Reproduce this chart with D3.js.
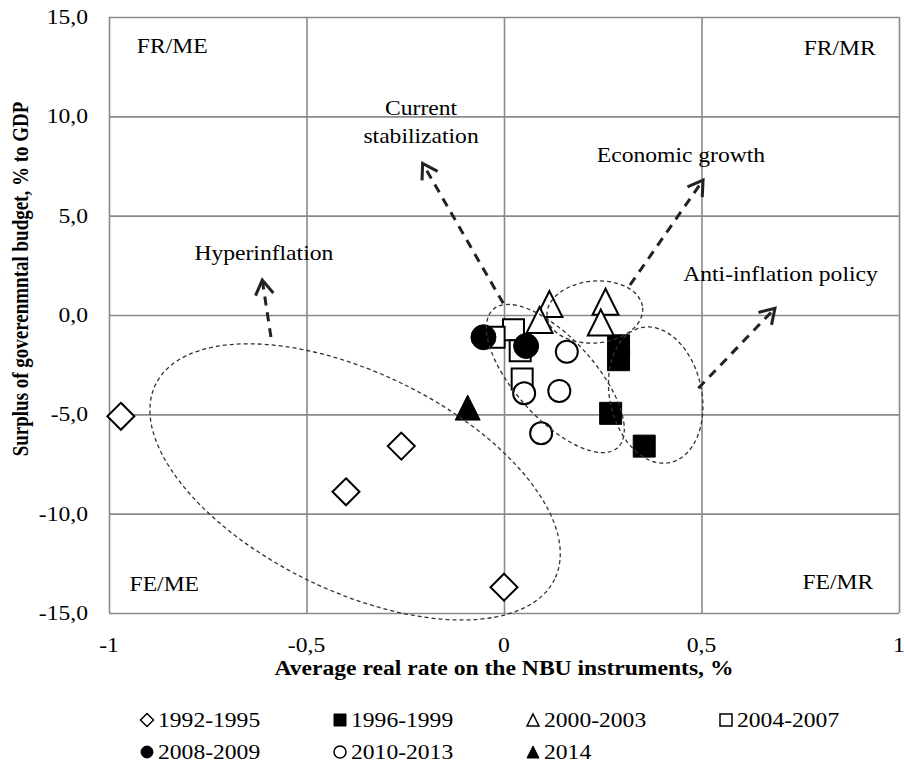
<!DOCTYPE html>
<html>
<head>
<meta charset="utf-8">
<script src="https://cdn.jsdelivr.net/npm/d3@7"></script>
<style>
  body { margin: 0; background: #fff; }
  svg { display: block; }
  text { font-family: "Liberation Serif", "Times New Roman", serif; fill: #000; }
</style>
</head>
<body>
<svg width="904" height="764"></svg>
<script>
// series (periods) and their points: x = average real rate, y = budget surplus
var periods = ["1992-1995", "1996-1999", "2000-2003", "2004-2007", "2008-2009", "2010-2013", "2014"];
var rateX = [
  [-0.97, -0.26, -0.40, 0.0],
  [0.29, 0.29, 0.27, 0.355],
  [0.115, 0.09, 0.257, 0.245],
  [0.024, -0.025, 0.041, 0.046],
  [-0.052, 0.056],
  [0.159, 0.051, 0.14, 0.094],
  [-0.092]
];
var surplusY = [
  [-5.1, -6.6, -8.9, -13.7],
  [-1.55, -2.25, -4.95, -6.6],
  [0.55, -0.25, 0.67, -0.38],
  [-0.74, -1.12, -1.8, -3.22],
  [-1.12, -1.56],
  [-1.85, -3.94, -3.82, -5.95],
  [-4.66]
];
var xTicks = [-1, -0.5, 0, 0.5, 1];
var xTickLabels = ["-1", "-0,5", "0", "0,5", "1"];
var yTicks = [15, 10, 5, 0, -5, -10, -15];
var yTickLabels = ["15,0", "10,0", "5,0", "0,0", "-5,0", "-10,0", "-15,0"];

// annotations
var quadrantNames = ["FR/ME", "FR/MR", "FE/ME", "FE/MR"];
var quadrantAt = [[-0.84, 13.2], [0.85, 13.1], [-0.86, -13.9], [0.845, -13.8]];
var arrowNames = [["Hyperinflation"], ["Current", "stabilization"], ["Economic growth"], ["Anti-inflation policy"]];
var arrowTextAt = [[-0.608, 2.75], [-0.21, 10.05], [0.448, 7.7], [0.70, 1.7]];
var arrowFrom = [[-0.59, -1.11], [-0.002, 0.59], [0.319, 1.51], [0.492, -3.69]];
var arrowTo = [[-0.612, 1.76], [-0.206, 7.63], [0.504, 6.79], [0.686, 0.34]];
// groups outlined by dashed ellipses: centre (data), radii px, tilt deg
var groupCentre = [[-0.377, -8.4], [0.13, -3.2], [0.23, 0.15], [0.384, -4.03]];
var groupRadius = [[222, 109], [93, 40], [48, 31], [46, 69]];
var groupTilt = [26, 48, -5, -12];

var shapes = ["diamond", "square", "triangle", "square", "circle", "circle", "triangle"];
var filled = [false, true, false, false, true, false, true];
var sizes = [27, 22, 26, 21, 25, 22, 25];

var svg = d3.select("svg");
var plotL = 109, plotR = 899, plotT = 17, plotB = 613;
var stretch = 1.18;

var x = d3.scaleLinear().domain([-1, 1]).range([plotL, plotR]);
var y = d3.scaleLinear().domain([-15, 15]).range([plotB, plotT]);

function markerPath(shape, s) {
  var h = s / 2;
  if (shape == "diamond") return "M0," + (-h) + "L" + h + ",0L0," + h + "L" + (-h) + ",0Z";
  if (shape == "square") return "M" + (-h) + "," + (-h) + "h" + s + "v" + s + "h" + (-s) + "Z";
  if (shape == "triangle") return "M0," + (-h) + "L" + h + "," + h + "L" + (-h) + "," + h + "Z";
  return d3.arc()({innerRadius: 0, outerRadius: h, startAngle: 0, endAngle: 2 * Math.PI});
}

function label(g, px, py, str, size, anchor, bold) {
  return g.append("text")
    .attr("transform", "translate(" + px + "," + py + ") scale(" + stretch + ",1)")
    .attr("text-anchor", anchor || "middle")
    .style("font-size", size + "px")
    .style("font-weight", bold ? "bold" : "normal")
    .text(str);
}

// grid
var grid = svg.append("g");
grid.append("g")
  .attr("transform", "translate(0," + plotB + ")")
  .call(d3.axisBottom(x).tickValues(xTicks).tickSize(-(plotB - plotT)).tickFormat(""));
grid.append("g")
  .attr("transform", "translate(" + plotL + ",0)")
  .call(d3.axisLeft(y).tickValues(yTicks).tickSize(-(plotR - plotL)).tickFormat(""));
grid.selectAll(".domain").remove();
grid.selectAll("line").attr("stroke", "#8a8a8a").attr("stroke-width", 1.6);

// tick labels
var axes = svg.append("g");
xTicks.forEach(function(v, i) { label(axes, x(v), 652, xTickLabels[i], 20); });
yTicks.forEach(function(v, i) {
  label(axes, 88, y(v), yTickLabels[i], 20, "end").attr("dy", "0.35em");
});
label(axes, (plotL + plotR) / 2, 675, "Average real rate on the NBU instruments, %", 20, "middle", true);
axes.append("text")
  .attr("transform", "translate(28,279) scale(" + stretch + ",1) rotate(-90)")
  .attr("text-anchor", "middle")
  .style("font-size", "19px")
  .style("font-weight", "bold")
  .text("Surplus of goverenmntal budget, % to GDP");

// points
periods.forEach(function(p, k) {
  var pts = rateX[k].map(function(v, i) { return [v, surplusY[k][i]]; });
  svg.append("g").attr("class", "series")
    .selectAll("path")
    .data(pts)
    .enter().append("path")
    .attr("transform", function(d) { return "translate(" + x(d[0]) + "," + y(d[1]) + ")"; })
    .attr("d", markerPath(shapes[k], sizes[k]))
    .attr("fill", filled[k] ? "#000" : "#fff")
    .attr("stroke", "#000")
    .attr("stroke-width", filled[k] ? 1 : 2);
});

// dashed ellipses
svg.append("g")
  .selectAll("ellipse")
  .data(groupCentre)
  .enter().append("ellipse")
  .attr("transform", function(d, i) {
    return "translate(" + x(d[0]) + "," + y(d[1]) + ") rotate(" + groupTilt[i] + ")";
  })
  .attr("rx", function(d, i) { return groupRadius[i][0]; })
  .attr("ry", function(d, i) { return groupRadius[i][1]; })
  .attr("fill", "none")
  .attr("stroke", "#333")
  .attr("stroke-width", 1.3)
  .attr("stroke-dasharray", "4,3");

// arrows
var arrows = svg.append("g");
arrowFrom.forEach(function(a, i) {
  var x1 = x(a[0]), y1 = y(a[1]), x2 = x(arrowTo[i][0]), y2 = y(arrowTo[i][1]);
  arrows.append("line")
    .attr("x1", x1).attr("y1", y1).attr("x2", x2).attr("y2", y2)
    .attr("stroke", "#222").attr("stroke-width", 3).attr("stroke-dasharray", "9,7");
  var ang = Math.atan2(y1 - y2, x1 - x2), len = 17, spread = 32 * Math.PI / 180;
  var head = d3.path();
  head.moveTo(x2 + len * Math.cos(ang - spread), y2 + len * Math.sin(ang - spread));
  head.lineTo(x2, y2);
  head.lineTo(x2 + len * Math.cos(ang + spread), y2 + len * Math.sin(ang + spread));
  arrows.append("path").attr("d", head.toString())
    .attr("fill", "none").attr("stroke", "#222").attr("stroke-width", 3);
});

// annotation texts
var notes = svg.append("g");
arrowNames.forEach(function(lines, i) {
  lines.forEach(function(t, j) {
    label(notes, x(arrowTextAt[i][0]), y(arrowTextAt[i][1]) + j * 28, t, 20);
  });
});
quadrantNames.forEach(function(t, i) {
  label(notes, x(quadrantAt[i][0]), y(quadrantAt[i][1]), t, 20);
});

// legend
var legX = [147, 340, 533, 726], legY = [720, 752];
var legend = svg.append("g");
periods.forEach(function(p, k) {
  var lx = legX[k % 4], ly = legY[Math.floor(k / 4)];
  legend.append("path")
    .attr("transform", "translate(" + lx + "," + ly + ")")
    .attr("d", markerPath(shapes[k], shapes[k] == "diamond" ? 13 : 12))
    .attr("fill", filled[k] ? "#000" : "#fff")
    .attr("stroke", "#000")
    .attr("stroke-width", filled[k] ? 1 : 1.5);
  label(legend, lx + 11, ly, p, 20, "start").attr("dy", "0.35em");
});
</script>
</body>
</html>
